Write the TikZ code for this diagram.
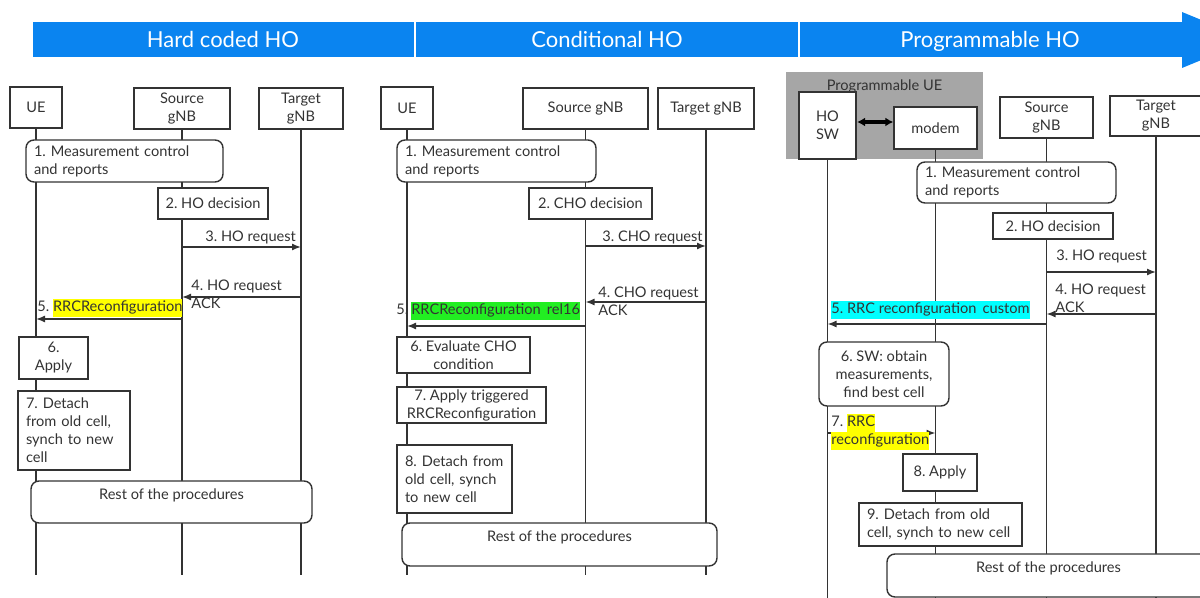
\documentclass[tikz,border=0pt]{standalone}
\usepackage{fontspec}
\setmainfont{Lato}
\usetikzlibrary{arrows.meta,backgrounds}

\definecolor{ink}{HTML}{333333}
\definecolor{bannerblue}{HTML}{0A84F0}
\definecolor{uegrey}{HTML}{A6A6A6}
\definecolor{hlyellow}{HTML}{FFFF00}
\definecolor{hlgreen}{HTML}{22EE22}
\definecolor{hlcyan}{HTML}{00FFFF}

% highlighted text run
\newcommand\hl[2]{{\setlength\fboxsep{0pt}\colorbox{#1}{\strut #2}}}

% box given by its corners (x1,y1) (x2,y2) in pixel units
\newcommand\bx[7]{%
  \pgfmathsetmacro\bw{(#4-#2)*0.5}%
  \pgfmathsetmacro\bh{(#5-#3)*0.5}%
  \pgfmathsetmacro\tw{(#4-#2)*0.5-8}%
  \node[#6, minimum width=\bw pt, minimum height=\bh pt] (#1)
    at ({(#2+#4)/2},{(#3+#5)/2}) {#7};}

\begin{document}
\frenchspacing
\begin{tikzpicture}[x=0.5pt, y=-0.5pt,
  font=\fontsize{7.3}{9}\selectfont\frenchspacing, text=ink,
  box/.style={draw=ink, fill=white, line width=0.7pt, inner sep=0pt, align=center},
  lbox/.style={box, align=left, text width=\tw pt},
  rbox/.style={box, rounded corners=4pt},
  lrbox/.style={lbox, rounded corners=4pt},
  restbox/.style={rbox, text depth=8pt},
  lbl/.style={inner sep=0pt, align=left, anchor=west},
  life/.style={draw=ink, line width=0.7pt},
  msg/.style={draw=ink, line width=0.7pt, -{Latex[length=4.5pt,width=3.5pt]}},
  dbl/.style={draw=black, line width=1.6pt, {Latex[length=4pt,width=4.5pt]}-{Latex[length=4pt,width=4.5pt]}},
  title/.style={text=white, anchor=base, inner sep=0pt, font=\fontsize{11}{13}\selectfont},
]
\useasboundingbox (0,0) rectangle (1200,598);

% ---- timeline banner ----
\fill[bannerblue] (33,22) rectangle (1182,57);
\fill[bannerblue] (1182,12) -- (1250,40) -- (1182,68) -- cycle;
\draw[white, line width=0.6pt] (415,22) -- (415,57) (799,22) -- (799,57);
\node[title] (tA) at (223,48) {Hard coded HO};
\node[title] (tB) at (607,48) {Conditional HO};
\node[title] (tC) at (990,48) {Programmable HO};

% ================= Hard coded HO =================
\bx{ueA}{10}{87}{62}{128}{box}{UE}
\bx{srcA}{134}{88}{230}{129}{box}{Source\\gNB}
\bx{tgtA}{259}{88}{343}{129}{box}{Target\\gNB}
\bx{m1A}{26}{140}{223}{182}{lrbox}{1. Measurement control\\and reports}
\bx{m2A}{158}{188}{268}{219}{box}{2. HO decision}
\draw[msg] (srcA |- 0,247) -- (tgtA |- 0,247);
\node[lbl] (l3A) at (205,237) {3. HO request};
\draw[msg] (tgtA |- 0,297) -- (srcA |- 0,297);
\node[lbl] (l4A) at (191,294) {4. HO request\\ACK};
\draw[msg] (srcA |- 0,319) -- (ueA |- 0,319);
\node[lbl] (l5A) at (37,308) {5. \hl{hlyellow}{RRCReconfiguration}};
\bx{m6A}{19}{337}{88}{379}{box}{6.\\Apply}
\bx{m7A}{18}{391}{130}{470}{lbox}{7. Detach\\from old cell,\\synch to new\\cell}
\bx{restA}{31}{481}{312}{523}{restbox}{Rest of the procedures}

% ================= Conditional HO =================
\bx{ueB}{381}{87}{433}{129}{box}{UE}
\bx{srcB}{523}{88}{648}{129}{box}{Source gNB}
\bx{tgtB}{658}{88}{754}{129}{box}{Target gNB}
\bx{m1B}{397}{140}{596}{182}{lrbox}{1. Measurement control\\and reports}
\bx{m2B}{529}{188}{652}{219}{box}{2. CHO decision}
\draw[msg] (srcB |- 0,246) -- (tgtB |- 0,246);
\node[lbl] (l3B) at (602,237) {3. CHO request};
\draw[msg] (tgtB |- 0,302) -- (srcB |- 0,302);
\node[lbl] (l4B) at (598,301) {4. CHO request\\ACK};
\draw[msg] (srcB |- 0,326) -- (ueB |- 0,326);
\node[lbl] (l5B) at (396,311) {5.\hspace{1.5pt}\hl{hlgreen}{RRCReconfiguration\ \,rel16}};
\bx{m6B}{397}{337}{530}{373}{box}{6. Evaluate CHO\\condition}
\bx{m7B}{397}{387}{546}{423}{box}{7. Apply triggered\\RRCReconfiguration}
\bx{m8B}{397}{445}{512}{513}{lbox}{\mbox{8. Detach from}\\\mbox{old cell, synch}\\to new cell}
\bx{restB}{402}{523}{717}{566}{restbox}{Rest of the procedures}

% ================= Programmable HO =================
\bx{hosw}{799}{92}{856}{159}{box, line width=1.1pt}{HO\\SW}
\bx{modem}{894}{107}{977}{149}{box}{modem}
\draw[dbl] (hosw.east |- 0,122) -- (modem.west |- 0,122);
\bx{srcC}{1000}{97}{1093}{138}{box}{Source\\gNB}
\bx{tgtC}{1110}{96}{1202}{136}{box}{Target\\gNB}
\bx{m1C}{917}{162}{1116}{203}{lrbox}{1. Measurement control\\and reports}
\bx{m2C}{993}{213}{1113}{239}{box}{2. HO decision}
\draw[msg] (srcC |- 0,272) -- (tgtC |- 0,272);
\node[lbl] (l3C) at (1056,256) {3. HO request};
\draw[msg] (tgtC |- 0,314) -- (srcC |- 0,314);
\node[lbl] (l4C) at (1055,298) {4. HO request\\ACK};
\draw[msg] (srcC |- 0,324) -- (hosw |- 0,324);
\node[lbl] (l5C) at (831,310) {\hl{hlcyan}{5. RRC reconfiguration\ \,custom}};
\bx{m6C}{819}{342}{949}{406}{rbox}{6. SW: obtain\\measurements,\\find best cell}
\draw[msg] (hosw |- 0,433) -- (modem |- 0,433);
\node[lbl] (l7C) at (831,432) {7. \hl{hlyellow}{RRC}\\\hl{hlyellow}{reconfiguration}};
\bx{m8C}{903}{454}{977}{491}{box}{8. Apply}
\bx{m9C}{859}{503}{1022}{546}{lbox}{\mbox{9. Detach from old}\\\mbox{cell, synch to new cell}}
\bx{restC}{887}{554}{1210}{597}{restbox}{Rest of the procedures}

% ---- programmable UE frame and lifelines, behind the boxes ----
\begin{scope}[on background layer]
  \node[fill=uegrey, inner sep=0pt, minimum width=98.5pt, minimum height=43.5pt,
        label={[anchor=north, inner sep=0pt, yshift=-4pt]north:Programmable UE}]
        (pue) at (884.5,115.5) {};
  \draw[life] (ueA.south) -- (ueA |- 0,575);
  \draw[life] (srcA.south) -- (srcA |- 0,575);
  \draw[life] (tgtA.south) -- (tgtA |- 0,575);
  \draw[life] (ueB.south) -- (ueB |- 0,575);
  \draw[life] (srcB.south) -- (srcB |- 0,575);
  \draw[life] (tgtB.south) -- (tgtB |- 0,575);
  \draw[life] (hosw.south) -- (hosw |- 0,600);
  \draw[life] (modem.south) -- (modem |- 0,600);
  \draw[life] (srcC.south) -- (srcC |- 0,600);
  \draw[life] (tgtC.south) -- (tgtC |- 0,600);
\end{scope}
\end{tikzpicture}
\end{document}
